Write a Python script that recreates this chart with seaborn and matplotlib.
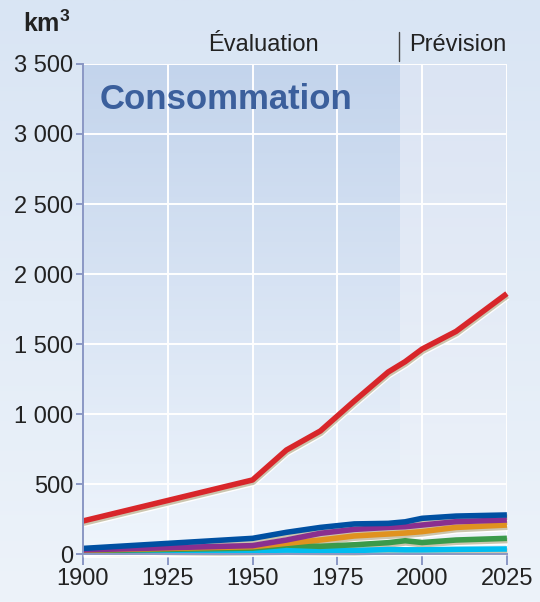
import numpy as np
import pandas as pd
import matplotlib
matplotlib.use("Agg")
import matplotlib.pyplot as plt
import matplotlib.patheffects as pe
from matplotlib.ticker import FuncFormatter
import seaborn as sns

# values (km3 per year)
years = [1900, 1950, 1960, 1970, 1980, 1990, 1995, 2000, 2010, 2025]
agriculture = [236, 529, 743, 879, 1093, 1300, 1374, 1464, 1590, 1860]
industrie = [40, 112, 155, 190, 215, 219, 230, 255, 271, 279]
municipal = [30, 60, 100, 148, 176, 190, 195, 207, 231, 243]
reservoirs = [28, 52, 76, 100, 129, 143, 150, 160, 190, 207]
autres = [24, 42, 64, 55, 66, 81, 95, 82, 100, 112]
eaux = [18, 25, 28, 26, 25, 32, 30, 30, 33, 36]

series = {
    "Eaux usées": eaux,
    "Autres": autres,
    "Réservoirs": reservoirs,
    "Municipal": municipal,
    "Industrie": industrie,
    "Agriculture": agriculture,
}
colors = ["#00bdf0", "#3b9a4a", "#e0921f", "#8a2f8f", "#0050a2", "#d8262a"]

yticks = [0, 500, 1000, 1500, 2000, 2500, 3000, 3500]
xticks = [1900, 1925, 1950, 1975, 2000, 2025]
split_year = 1993.5
lw = 4.0

records = []
for name, vals in series.items():
    for y, v in zip(years, vals):
        records.append({"annee": y, "km3": v, "serie": name})
df = pd.DataFrame(records)

sns.set_style("white")
plt.rcParams["font.family"] = ["Liberation Sans", "DejaVu Sans"]
plt.rcParams["mathtext.fontset"] = "custom"
plt.rcParams["mathtext.bf"] = "Liberation Sans:bold"

fig = plt.figure(figsize=(5.4, 6.02), dpi=100)

# page background gradient
bg = fig.add_axes([0, 0, 1, 1], zorder=-10)
grad = np.linspace(0, 1, 256).reshape(-1, 1)
bg.imshow(grad, aspect="auto", extent=[0, 1, 0, 1], origin="lower",
          cmap=matplotlib.colors.LinearSegmentedColormap.from_list(
              "bgc", ["#edf3fa", "#d9e5f4"]))
bg.axis("off")

ax = fig.add_axes([0.1537, 0.0797, 0.785, 0.814])
ax.set_facecolor("none")

# shaded zones: evaluation / prévision
eval_cmap = matplotlib.colors.LinearSegmentedColormap.from_list(
    "ev", ["#eff5fc", "#c3d4ec"])
prev_cmap = matplotlib.colors.LinearSegmentedColormap.from_list(
    "pv", ["#eef3fa", "#dbe4f3"])
ax.imshow(grad, aspect="auto", origin="lower", cmap=eval_cmap,
          extent=[1900, split_year, 0, 3500], zorder=0)
ax.imshow(grad, aspect="auto", origin="lower", cmap=prev_cmap,
          extent=[split_year, 2025, 0, 3500], zorder=0)

# shadows first, then the coloured lines on top
sns.lineplot(data=df, x="annee", y="km3", hue="serie",
             hue_order=list(series.keys()), palette=colors,
             linewidth=lw, legend=False, ax=ax)
n_shadow = len(ax.lines)
sns.lineplot(data=df, x="annee", y="km3", hue="serie",
             hue_order=list(series.keys()), palette=colors,
             linewidth=lw, legend=False, ax=ax)

for i, line in enumerate(ax.lines):
    line.set_solid_capstyle("butt")
    line.set_clip_on(False)
    if i < n_shadow:
        line.set_zorder(2.5)
        line.set_path_effects([
            pe.Stroke(linewidth=lw, foreground="#ffffff", offset=(0.6, -2.6)),
            pe.Stroke(linewidth=lw, foreground="#cbc5ae", offset=(0.4, -1.6)),
        ])
    else:
        line.set_zorder(3)

ax.set_xlim(1900, 2025)
ax.set_ylim(0, 3500)
ax.set_xticks(xticks)
ax.set_yticks(yticks)
ax.yaxis.set_major_formatter(
    FuncFormatter(lambda v, p: f"{int(v):,}".replace(",", " ")))
ax.grid(True, color="white", linewidth=1.4, zorder=1)
ax.set_axisbelow(True)

for side in ["top", "right"]:
    ax.spines[side].set_visible(False)
for side in ["left", "bottom"]:
    ax.spines[side].set_color("#8a97c4")
    ax.spines[side].set_linewidth(1.4)
    ax.spines[side].set_zorder(5)
ax.tick_params(axis="x", length=8, width=1.4, color="#8a97c4",
               labelsize=17, labelcolor="#222222", pad=2, direction="out",
               bottom=True)
ax.tick_params(axis="y", length=5, width=1.4, color="#8a97c4",
               labelsize=17, labelcolor="#222222", pad=2, direction="out",
               left=True)
ax.set_xlabel("")
ax.set_ylabel("")

fig.text(0.043, 0.96, r"km$^{\mathbf{3}}$", fontsize=18, fontweight="bold",
         ha="left", va="center", color="#222222")
fig.text(0.487, 0.925, "Évaluation", fontsize=17, ha="center",
         va="center", color="#222222")
fig.text(0.758, 0.925, "Prévision", fontsize=17, ha="left",
         va="center", color="#222222")
fig.add_artist(plt.Line2D([0.739, 0.739], [0.899, 0.947],
                          color="#444444", linewidth=1.0))
ax.text(0.04, 0.928, "Consommation", transform=ax.transAxes,
        fontsize=25, fontweight="bold", color="#3b5f9c",
        ha="left", va="center")

fig.savefig("out.png", dpi=100)
